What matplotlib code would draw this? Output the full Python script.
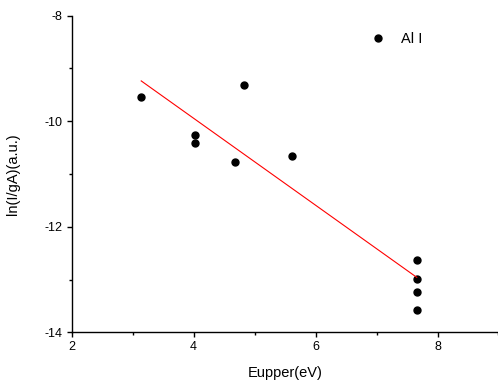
import matplotlib
matplotlib.use('Agg')
import matplotlib.pyplot as plt
import numpy as np
from matplotlib.ticker import MultipleLocator

plt.rcParams['font.family'] = ['Liberation Sans', 'DejaVu Sans']
plt.rcParams['axes.unicode_minus'] = False

# energia do nivel superior (eV) e ln(I/gA)
eupper = [3.14, 4.02, 4.02, 4.67, 4.82, 5.62, 7.66, 7.66, 7.66, 7.66]
ln_iga = [-9.54, -10.27, -10.41, -10.78, -9.31, -10.66, -12.63, -12.99, -13.23, -13.57]

x = np.array(eupper)
y = np.array(ln_iga)
coef = np.polyfit(x, y, 1)
xfit = np.array([x.min(), x.max()])
yfit = np.polyval(coef, xfit)

fig = plt.figure(figsize=(4.98, 3.83), dpi=100)
ax = fig.add_axes([0.144, 0.1324, 0.857, 0.8266])

ax.plot(x, y, 'o', color='black', markersize=5, label='Al I')
ax.plot(xfit, yfit, '-', color='red', linewidth=0.8)

ax.set_xlim(2, 9)
ax.set_ylim(-14, -8)
ax.xaxis.set_major_locator(MultipleLocator(2))
ax.xaxis.set_minor_locator(MultipleLocator(1))
ax.yaxis.set_major_locator(MultipleLocator(2))
ax.yaxis.set_minor_locator(MultipleLocator(1))

ax.spines['top'].set_visible(False)
ax.spines['right'].set_visible(False)
for s in ['left', 'bottom']:
    ax.spines[s].set_linewidth(1.0)
ax.tick_params(which='major', direction='out', length=3.5, width=1.0, labelsize=9, pad=3)
ax.tick_params(which='minor', direction='out', length=2, width=1.0)

ax.set_xlabel('Eupper(eV)', fontsize=10.5)
ax.set_ylabel('ln(I/gA)(a.u.)', fontsize=10.5)
ax.xaxis.set_label_coords(0.5, -0.105)
ax.yaxis.set_label_coords(-0.121, 0.5)

ax.legend(loc='center left', bbox_to_anchor=(370.7 / 498, 0.897),
          bbox_transform=fig.transFigure, frameon=False, numpoints=1,
          handlelength=1.0, handletextpad=1.05, borderpad=0, borderaxespad=0,
          fontsize=10.5)

fig.savefig('out.png', dpi=100)
